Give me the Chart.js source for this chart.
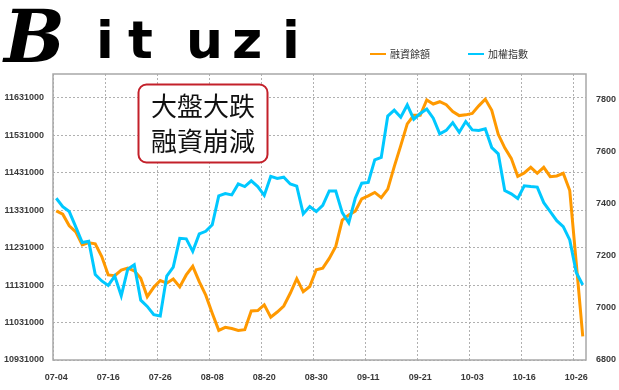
<!DOCTYPE html>
<html>
<head>
<meta charset="utf-8">
<script src="https://cdn.jsdelivr.net/npm/chart.js@4.4.1/dist/chart.umd.min.js"></script>
<style>
  html, body { margin: 0; padding: 0; background: #fff; }
  #wrap { width: 619px; height: 390px; }
</style>
</head>
<body>
<div id="wrap"><canvas id="chart" width="619" height="390"></canvas></div>
<script>
// --- DATA ---
const dateLabels = [
  '07-04','07-05','07-06','07-09','07-10','07-11','07-12','07-13','07-16','07-17',
  '07-18','07-19','07-20','07-23','07-24','07-25','07-26','07-27','07-30','07-31',
  '08-01','08-03','08-06','08-07','08-08','08-09','08-10','08-13','08-14','08-15',
  '08-16','08-17','08-20','08-21','08-22','08-23','08-24','08-27','08-28','08-29',
  '08-30','08-31','09-03','09-04','09-05','09-06','09-07','09-10','09-11','09-12',
  '09-13','09-14','09-17','09-18','09-19','09-20','09-21','09-24','09-25','09-26',
  '09-27','09-28','10-01','10-02','10-03','10-04','10-05','10-08','10-09','10-11',
  '10-12','10-15','10-16','10-17','10-18','10-19','10-22','10-23','10-24','10-25',
  '10-26','10-29'
];

// 融資餘額 (left axis)
const marginBalance = [
  11329000, 11320000, 11289000, 11273000, 11238000, 11244000, 11241000, 11207000, 11158000, 11156000,
  11171000, 11176000, 11169000, 11149000, 11100000, 11125000, 11143000, 11136000, 11147000, 11126000,
  11158000, 11181000, 11140000, 11104000, 11056000, 11010000, 11018000, 11015000, 11010000, 11012000,
  11062000, 11063000, 11078000, 11045000, 11059000, 11075000, 11109000, 11148000, 11113000, 11127000,
  11172000, 11176000, 11202000, 11234000, 11304000, 11318000, 11328000, 11361000, 11369000, 11378000,
  11364000, 11387000, 11447000, 11503000, 11561000, 11584000, 11584000, 11625000, 11614000, 11620000,
  11612000, 11594000, 11583000, 11585000, 11589000, 11609000, 11627000, 11597000, 11533000, 11497000,
  11469000, 11421000, 11430000, 11445000, 11429000, 11445000, 11420000, 11422000, 11429000, 11383000,
  11190000, 10994000
];

// 加權指數 (right axis)
const taiex = [
  7422, 7390, 7371, 7312, 7252, 7257, 7129, 7104, 7087, 7123,
  7047, 7149, 7166, 7030, 7006, 6974, 6969, 7123, 7157, 7268,
  7266, 7218, 7285, 7295, 7320, 7431, 7440, 7435, 7477, 7467,
  7489, 7467, 7433, 7506, 7498, 7503, 7477, 7469, 7362, 7390,
  7371, 7395, 7450, 7450, 7367, 7328, 7422, 7480, 7483, 7570,
  7579, 7738, 7761, 7734, 7781, 7726, 7748, 7765, 7730, 7670,
  7683, 7713, 7676, 7717, 7685, 7683, 7689, 7617, 7593, 7452,
  7439, 7421, 7470, 7467, 7465, 7405, 7371, 7336, 7313, 7262,
  7137, 7089
];

const leftTicks = [10931000, 11031000, 11131000, 11231000, 11331000, 11431000, 11531000, 11631000];
const rightTicks = [6800, 7000, 7200, 7400, 7600, 7800];
const seriesNames = ['融資餘額', '加權指數'];
const noteLines = ['大盤大跌', '融資崩減'];
const logoText = 'Bituzi';

const ORANGE = '#ff9900';
const BLUE = '#00c8ff';
const tickFont = { family: '"Liberation Sans", Arial, sans-serif', size: 9, weight: 'bold' };
const tickColor = '#3a3a3a';

// --- EXTRA DRAWING: frame, note box, legend, logo ---
const decorPlugin = {
  id: 'decor',
  beforeDatasetsDraw(chart) {
    const { ctx, chartArea: a } = chart;
    ctx.save();
    ctx.strokeStyle = '#a8a8a8';
    ctx.lineWidth = 1.5;
    ctx.strokeRect(a.left, a.top, a.right - a.left, a.bottom - a.top);
    ctx.restore();
  },
  afterDatasetsDraw(chart) {
    const ctx = chart.ctx;
    ctx.save();
    // note box
    ctx.beginPath();
    ctx.roundRect(138.5, 84.5, 129, 78, 8);
    ctx.fillStyle = '#fff';
    ctx.fill();
    ctx.strokeStyle = '#c3202a';
    ctx.lineWidth = 2;
    ctx.stroke();
    ctx.fillStyle = '#111';
    ctx.font = '26px "Noto Sans CJK TC", sans-serif';
    ctx.textAlign = 'center';
    ctx.textBaseline = 'middle';
    ctx.fillText(noteLines[0], 203, 106);
    ctx.fillText(noteLines[1], 203, 141);
    ctx.restore();
  },
  afterDraw(chart) {
    const ctx = chart.ctx;
    ctx.save();
    // legend
    const items = [
      { x: 370, color: chart.data.datasets[0].borderColor, label: chart.data.datasets[0].label },
      { x: 468, color: chart.data.datasets[1].borderColor, label: chart.data.datasets[1].label }
    ];
    ctx.font = '10px "Noto Sans CJK TC", sans-serif';
    ctx.textBaseline = 'middle';
    items.forEach(it => {
      ctx.strokeStyle = it.color;
      ctx.lineWidth = 2;
      ctx.beginPath();
      ctx.moveTo(it.x, 54);
      ctx.lineTo(it.x + 16, 54);
      ctx.stroke();
      ctx.fillStyle = '#333';
      ctx.fillText(it.label, it.x + 20, 54);
    });
    // logo: brush-like lettering approximated with heavy type
    ctx.fillStyle = '#000';
    ctx.textBaseline = 'alphabetic';
    const pos = [4, 96, 128, 186, 232, 282];
    for (let i = 0; i < logoText.length; i++) {
      ctx.font = i === 0 ? 'italic bold 72px "DejaVu Serif", serif' : 'bold 52px "DejaVu Sans", sans-serif';
      ctx.fillText(logoText[i], pos[i], i === 0 ? 62 : 58);
    }
    ctx.restore();
  }
};

new Chart(document.getElementById('chart'), {
  type: 'line',
  data: {
    labels: dateLabels,
    datasets: [
      { label: seriesNames[0], data: marginBalance, yAxisID: 'y', borderColor: ORANGE, backgroundColor: ORANGE,
        borderWidth: 3, pointRadius: 0, tension: 0, order: 1 },
      { label: seriesNames[1], data: taiex, yAxisID: 'y2', borderColor: BLUE, backgroundColor: BLUE,
        borderWidth: 3, pointRadius: 0, tension: 0, order: 0 }
    ]
  },
  options: {
    responsive: false,
    animation: false,
    layout: { padding: { top: 74, left: 0, right: 0, bottom: 0 } },
    plugins: { legend: { display: false }, tooltip: { enabled: false } },
    scales: {
      x: {
        type: 'category',
        offset: true,
        grid: {
          offset: true,
          drawTicks: false,
          lineWidth: 1,
          color: c => (c.index !== undefined && c.index % 8 === 0) ? '#b0b0b0' : 'rgba(0,0,0,0)'
        },
        border: { display: false, dash: [2, 2] },
        ticks: {
          autoSkip: false, maxRotation: 0, minRotation: 0, padding: 12,
          font: tickFont, color: tickColor,
          callback: (v, i) => i % 8 === 0 ? dateLabels[i] : ''
        },
        afterFit: s => { s.height = 30; }
      },
      y: {
        position: 'left',
        min: 10931000,
        max: 11694000,
        afterBuildTicks: s => { s.ticks = leftTicks.map(v => ({ value: v })); },
        grid: { color: '#b0b0b0', drawTicks: false, lineWidth: 1 },
        border: { display: false, dash: [2, 2] },
        ticks: { padding: 9, font: tickFont, color: tickColor, callback: v => String(v) },
        afterFit: s => { s.width = 53; }
      },
      y2: {
        position: 'right',
        min: 6800,
        max: 7900,
        afterBuildTicks: s => { s.ticks = rightTicks.map(v => ({ value: v })); },
        grid: { drawOnChartArea: false, drawTicks: false },
        border: { display: false },
        ticks: { padding: 10, font: tickFont, color: tickColor, callback: v => String(v) },
        afterFit: s => { s.width = 33; }
      }
    }
  },
  plugins: [decorPlugin]
});
</script>
</body>
</html>
